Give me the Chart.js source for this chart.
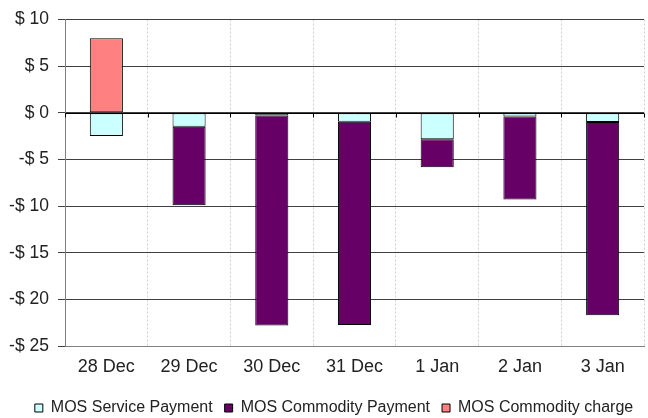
<!DOCTYPE html>
<html>
<head>
<meta charset="utf-8">
<script src="https://cdn.jsdelivr.net/npm/chart.js@4/dist/chart.umd.min.js"></script>
<style>
  html, body { margin: 0; padding: 0; background: #fff; }
  #wrap { width: 648px; height: 418px; }
</style>
</head>
<body>
<div id="wrap"><canvas id="grafico"></canvas></div>
<script>
// datos del gráfico
var dias = ['28 Dec', '29 Dec', '30 Dec', '31 Dec', '1 Jan', '2 Jan', '3 Jan'];
var servicePayment = [-2.5, -1.5, -0.3, -0.95, -2.85, -0.4, -1.0];
var commodityPayment = [0, -8.4, -22.5, -21.8, -3.0, -8.9, -20.7];
var commodityCharge = [8.0, 0, 0, 0, 0, 0, 0];
var ejeY = { min: -25, max: 10, paso: 5 };

// marcas pequeñas sobre la línea del cero (como en Excel)
var marcasCero = {
  id: 'marcasCero',
  afterLayout: function (chart) {
    // la leyenda del original está un poco corrida a la derecha
    chart.legend.left += 12;
    chart.legend.right += 12;
  },
  afterDatasetsDraw: function (chart) {
    var x = chart.scales.x, y = chart.scales.y, ctx = chart.ctx;
    var y0 = Math.round(y.getPixelForValue(0)) + 0.5;
    var ancho = x.getPixelForValue(1) - x.getPixelForValue(0);
    ctx.save();
    ctx.strokeStyle = '#000';
    ctx.lineWidth = 1;
    ctx.beginPath();
    ctx.moveTo(chart.chartArea.left, y0);
    ctx.lineTo(chart.chartArea.right, y0);
    for (var i = 0; i <= dias.length; i++) {
      var px = Math.round(x.getPixelForValue(i) - ancho / 2) + 0.5;
      ctx.moveTo(px, y0);
      ctx.lineTo(px, y0 + 4);
    }
    ctx.stroke();
    ctx.restore();
  }
};

Chart.defaults.font.family = '"Liberation Sans", Arial, sans-serif';
Chart.defaults.font.size = 18;
Chart.defaults.color = '#222';

var ctx = document.getElementById('grafico').getContext('2d');
var grafico = new Chart(ctx, {
  type: 'bar',
  data: {
    labels: dias,
    datasets: [
      { label: 'MOS Service Payment', data: servicePayment, backgroundColor: '#CCFFFF', borderColor: '#000', borderWidth: 1, borderSkipped: false },
      { label: 'MOS Commodity Payment', data: commodityPayment, backgroundColor: '#660066', borderColor: '#000', borderWidth: 1, borderSkipped: false },
      { label: 'MOS Commodity charge', data: commodityCharge, backgroundColor: '#FF8080', borderColor: '#000', borderWidth: 1, borderSkipped: false }
    ]
  },
  options: {
    responsive: true,
    maintainAspectRatio: false,
    animation: false,
    layout: { padding: { top: 13, right: 4, left: 0, bottom: -8 } },
    datasets: { bar: { categoryPercentage: 1, barPercentage: 0.4 } },
    scales: {
      x: {
        stacked: true,
        afterFit: function (escala) { escala.height = 42; },
        grid: { color: '#d0d0d0', drawTicks: false },
        border: { color: '#808080', dash: [2, 2] },
        ticks: { padding: 10 }
      },
      y: {
        stacked: true,
        min: ejeY.min,
        max: ejeY.max,
        afterFit: function (escala) { escala.width = 65; },
        grid: { color: '#404040', tickLength: 7, tickColor: '#404040' },
        border: { color: '#808080' },
        ticks: {
          stepSize: ejeY.paso,
          padding: 9,
          font: { size: 17.5 },
          callback: function (v) { return v < 0 ? '-$ ' + Math.abs(v) : '$ ' + v; }
        }
      }
    },
    plugins: {
      legend: {
        position: 'bottom',
        labels: { boxWidth: 8, boxHeight: 8, padding: 12, color: '#222', font: { size: 16 } }
      },
      tooltip: { enabled: false }
    }
  },
  plugins: [marcasCero]
});
</script>
</body>
</html>
